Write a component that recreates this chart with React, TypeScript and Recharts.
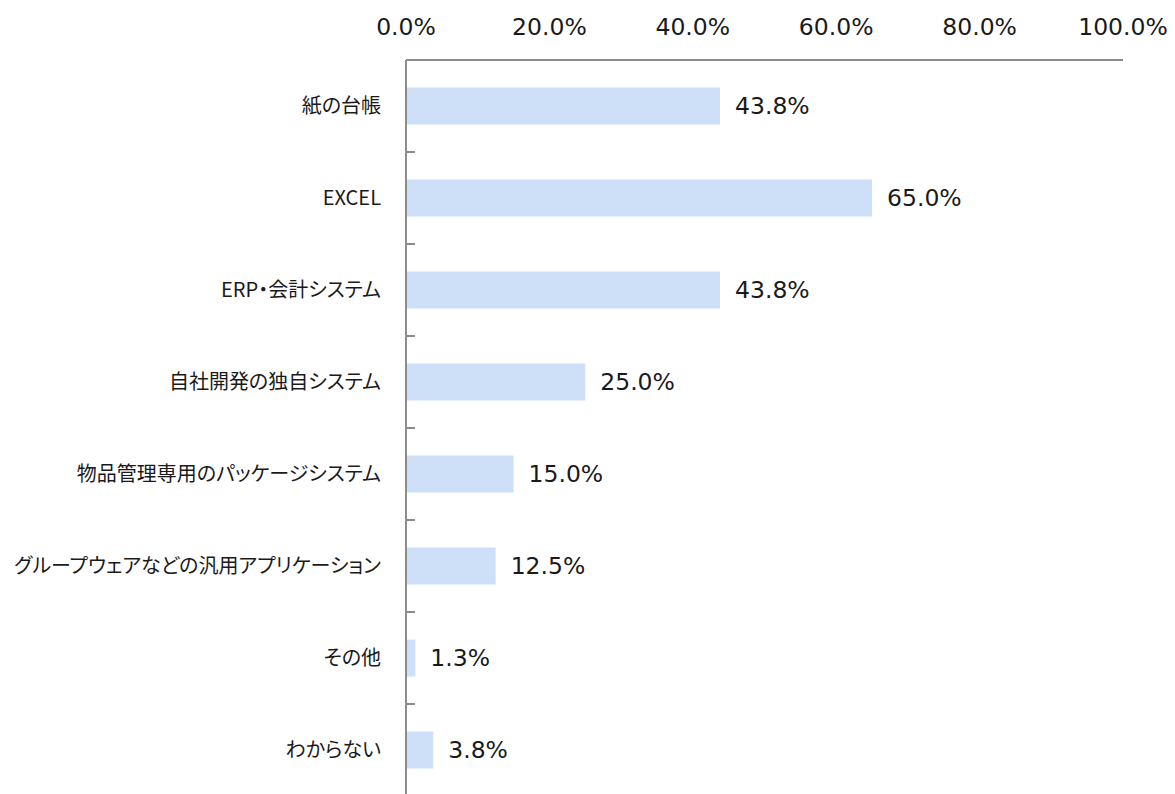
import { BarChart, Bar, XAxis, YAxis, LabelList } from "recharts";

const categories = [
  "紙の台帳",
  "EXCEL",
  "ERP・会計システム",
  "自社開発の独自システム",
  "物品管理専用のパッケージシステム",
  "グループウェアなどの汎用アプリケーション",
  "その他",
  "わからない",
];
const shares = [43.8, 65.0, 43.8, 25.0, 15.0, 12.5, 1.3, 3.8];
const xTicks = [0, 20, 40, 60, 80, 100];

const data = categories.map((name, i) => ({ name, value: shares[i] }));

const numFont = "'DejaVu Sans', Verdana, sans-serif";
const jpFont = "'Noto Sans CJK JP', 'Noto Sans', sans-serif";
const axisColor = "#8c8c8c";

function CategoryTick(props: any) {
  const { x, y, payload, index } = props;
  const half = payload?.offset ?? 0;
  return (
    <g>
      <text
        x={x - 25}
        y={y}
        dy="0.35em"
        textAnchor="end"
        fill="#1a1a1a"
        fontSize={20}
        style={{ fontFamily: jpFont, fontFeatureSettings: '"palt"' }}
      >
        {payload.value}
      </text>
      {index < categories.length - 1 && (
        <line x1={x} x2={x + 9} y1={y + half} y2={y + half} stroke={axisColor} strokeWidth={2} />
      )}
    </g>
  );
}

export default function App() {
  return (
    <div style={{ position: "absolute", left: 0, top: 0, width: 1175, height: 794, overflow: "hidden", background: "#fff" }}>
      <BarChart
        width={1175}
        height={796}
        data={data}
        layout="vertical"
        margin={{ top: 0, right: 52, bottom: 0, left: 0 }}
        barCategoryGap="30%"
      >
        <XAxis
          type="number"
          orientation="top"
          domain={[0, 100]}
          ticks={xTicks}
          height={60}
          tickSize={0}
          tickMargin={25}
          tickLine={false}
          axisLine={{ stroke: axisColor, strokeWidth: 2 }}
          tickFormatter={(v: number) => v.toFixed(1) + "%"}
          tick={{ fill: "#1a1a1a", fontSize: 23.5, fontFamily: numFont }}
          interval={0}
        />
        <YAxis
          type="category"
          dataKey="name"
          width={406}
          tickSize={0}
          tickMargin={0}
          tickLine={false}
          axisLine={{ stroke: axisColor, strokeWidth: 2 }}
          tick={<CategoryTick />}
          interval={0}
        />
        <Bar dataKey="value" fill="#cde0f7" isAnimationActive={false}>
          <LabelList
            dataKey="value"
            position="right"
            offset={15}
            formatter={(v: any) => Number(v).toFixed(1) + "%"}
            style={{ fill: "#1a1a1a", fontSize: 23.5, fontFamily: numFont }}
          />
        </Bar>
      </BarChart>
    </div>
  );
}
